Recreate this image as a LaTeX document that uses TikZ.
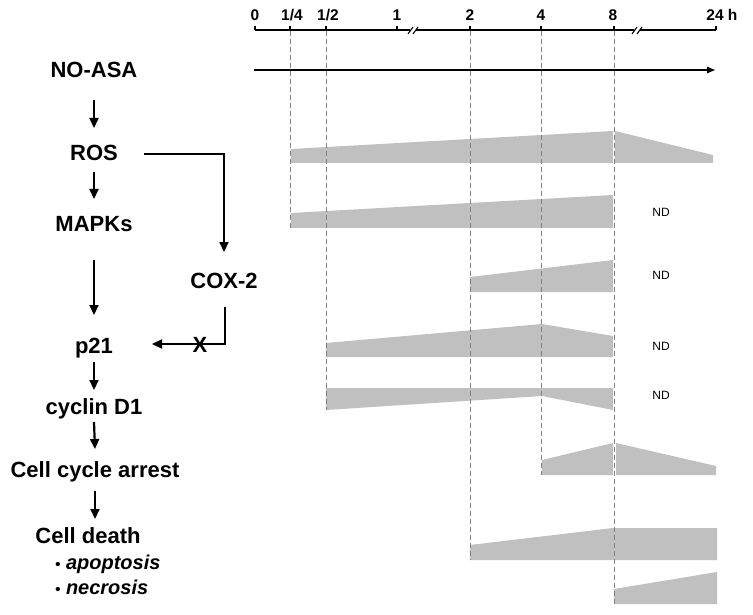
\documentclass[tikz,border=0pt]{standalone}
\usepackage{fontspec}
\setmainfont{Liberation Sans}
\usetikzlibrary{arrows.meta,calc}
\definecolor{bargray}{RGB}{192,192,192}
\definecolor{dashgray}{RGB}{128,128,128}
\begin{document}
\begin{tikzpicture}[x=1pt,y=-1pt,
  lbl/.style={font=\fontsize{22}{24}\selectfont\bfseries, inner sep=0pt, anchor=base},
  itm/.style={font=\fontsize{20}{22}\selectfont\bfseries\itshape, inner sep=0pt, anchor=base west},
  tlbl/.style={font=\fontsize{15.5}{17}\selectfont\bfseries, inner sep=0pt, anchor=base},
  ndl/.style={font=\fontsize{12}{14}\selectfont, inner sep=0pt, anchor=base},
  arr/.style={line width=2.2pt, -{Triangle[length=10pt,width=9pt]}},
  bar/.style={fill=bargray, draw=none},
  vdash/.style={draw=dashgray, line width=0.9pt, dash pattern=on 5pt off 3pt},
  axis/.style={line width=1.1pt}
]
\useasboundingbox (0,0) rectangle (753,615);

% ---- left pathway nodes ----
\node[lbl] (noasa) at (94,78) {NO-ASA};
\node[lbl] (ros) at (94,161) {ROS};
\node[lbl] (mapks) at (94,232) {MAPKs};
\node[lbl] (cox) at (224,288) {COX-2};
\node[lbl] (p21) at (94,353) {p21};
\node[lbl] (cyc) at (94,414) {cyclin D1};
\node[lbl] (cca) at (95,477) {Cell cycle arrest};
\node[lbl] (cd) at (88,543) {Cell death};
\node[itm] (apo) at (55,569) {{\fontsize{15}{16}\selectfont\textbullet}\ apoptosis};
\node[itm] (nec) at (55,594) {{\fontsize{15}{16}\selectfont\textbullet}\ necrosis};
\node[lbl] (xmark) at (200,352) {X};

% ---- pathway arrows ----
\draw[arr] ($(noasa.base)+(0,22)$) -- ($(ros.base)+(0,-33)$);
\draw[arr] ($(ros.base)+(0,11)$) -- ($(mapks.base)+(0,-33)$);
\draw[arr] ($(mapks.base)+(0,28)$) -- ($(p21.base)+(0,-38)$);
\draw[arr] ($(p21.base)+(0,9)$) -- ($(cyc.base)+(0,-24)$);
\draw[arr] ($(cyc.base)+(0,8)$) -- ($(cca.base)+(0,-28)$);
\draw[arr] ($(cca.base)+(0,14)$) -- ($(cca.base |- cd.base)+(0,-24)$);
\draw[arr] ($(ros.base)+(50,-7)$) -| ($(cox.base)+(0,-36)$);
\draw[arr] ($(cox.base)+(1,19)$) |- ($(p21.base)+(58,-9)$);

% ---- bars ----
\fill[bar] (291,163) -- (291,149) -- (613,131) -- (613,163) -- cycle;
\fill[bar] (615,163) -- (615,131) -- (713,155) -- (713,163) -- cycle;
\fill[bar] (291,228) -- (291,213) -- (613,195) -- (613,228) -- cycle;
\fill[bar] (470,292) -- (470,277) -- (613,260) -- (613,292) -- cycle;
\fill[bar] (326,357) -- (326,343) -- (542,324) -- (613,336) -- (613,357) -- cycle;
\fill[bar] (326,388) -- (613,388) -- (613,410) -- (542,396) -- (326,410) -- cycle;
\fill[bar] (542,475) -- (542,460) -- (613,443) -- (613,475) -- cycle;
\fill[bar] (616,475) -- (616,443) -- (716,466) -- (716,475) -- cycle;
\fill[bar] (470,560) -- (470,545) -- (613,528) -- (717,528) -- (717,560) -- cycle;
\fill[bar] (614,604) -- (614,589) -- (717,572) -- (717,604) -- cycle;

% ---- dashed guides ----
\draw[vdash] (290,31) -- (290,228);
\draw[vdash] (326,31) -- (326,410);
\draw[vdash] (470,31) -- (470,560);
\draw[vdash] (541,31) -- (541,475);
\draw[vdash] (614,31) -- (614,604);

% ---- time axis ----
\draw[axis] (255,30) -- (410,30);
\draw[axis] (416,30) -- (634,30);
\draw[axis] (640,30) -- (716,30);
\draw[axis] (408,34) -- (413,27);
\draw[axis] (413,34) -- (418,27);
\draw[axis] (632,34) -- (637,27);
\draw[axis] (637,34) -- (642,27);
\foreach \x in {255,290,326,397,470,541,614,716} \draw[axis] (\x,30) -- (\x,26);
\node[tlbl] (t0) at (255,21) {0};
\node[tlbl] (t14) at (292,21) {1/4};
\node[tlbl] (t12) at (328,21) {1/2};
\node[tlbl] (t1) at (397,21) {1};
\node[tlbl] (t2) at (470,21) {2};
\node[tlbl] (t4) at (541,21) {4};
\node[tlbl] (t8) at (613,21) {8};
\node[tlbl] (t24) at (715,21) {24\rlap{ h}};
\draw[line width=1.1pt, -{Triangle[length=8pt,width=6.5pt]}] (254,70) -- (715,70);

% ---- ND labels ----
\node[ndl] (nd1) at (661,216) {ND};
\node[ndl] (nd2) at (661,279) {ND};
\node[ndl] (nd3) at (661,350) {ND};
\node[ndl] (nd4) at (661,399) {ND};
\end{tikzpicture}
\end{document}
